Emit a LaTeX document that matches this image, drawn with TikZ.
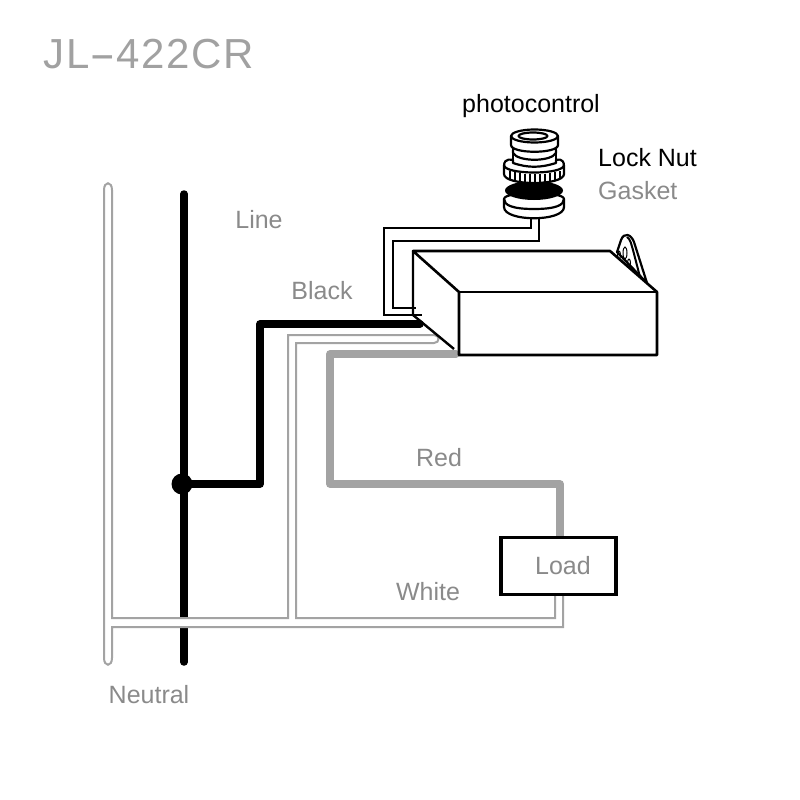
\documentclass[tikz,border=0pt]{standalone}
\usepackage{fontspec}
\setmainfont{Liberation Sans}
\newfontfamily\titlefont[LetterSpace=4.5]{Liberation Sans}
\definecolor{wiregray}{HTML}{A3A3A3}
\definecolor{labelgray}{HTML}{8A8A8A}
\tikzset{
  lab/.style={text=labelgray,font=\fontsize{25}{28}\selectfont,inner sep=0pt},
  blk/.style={text=black,font=\fontsize{25}{28}\selectfont,inner sep=0pt},
  thickwire/.style={line width=7.5pt,line join=round},
  hotwire/.style={thickwire,black},
  redwire/.style={thickwire,wiregray},
  whitewire/.style={draw=wiregray,fill=white,line width=2pt,line join=miter},
  leadwire/.style={draw=black,line width=2pt},
  boxline/.style={draw=black,line width=2.6pt,line join=round,fill=white},
  pc/.style={draw=black,line width=2.2pt,fill=white,line join=round},
}
\begin{document}
\begin{tikzpicture}[x=1pt,y=-1pt]
\useasboundingbox (0,0) rectangle (800,800);
% named points
\coordinate (lineTop) at (184,194);
\coordinate (lineBot) at (184,662);
\coordinate (tapA) at (260,484);
\coordinate (tapB) at (260,324);
\coordinate (tapC) at (420,324);
\coordinate (redA) at (456,354);
\coordinate (redB) at (330,354);
\coordinate (redC) at (330,484);
\coordinate (redD) at (560,484);
% title
\node[anchor=west,inner sep=0pt,text=labelgray!80!white] (title) at (43,54)
  {\titlefont\fontsize{42}{45}\selectfont JL\scalebox{1.9}[1]{-}422CR};
% black line
\draw[hotwire,line cap=round] (lineTop) -- (lineBot);
\node[circle,fill=black,minimum size=21pt,inner sep=0pt] (tap) at (182,484) {};
\draw[hotwire,line cap=round] (tap.center) -- (tapA) -- (tapB) -- (tapC);
% neutral / white wire outline
\coordinate (nA) at (104,190);
\draw[whitewire] (nA) .. controls (104,181) and (112,181) .. (112,190)
  -- (112,618) -- (288,618) -- (288,335) -- (434,335)
  .. controls (440,335) and (440,343) .. (434,343)
  -- (296,343) -- (296,618) -- (555,618) -- (555,580) -- (563,580) -- (563,627)
  -- (112,627) -- (112,658) .. controls (112,667) and (104,667) .. (104,658) -- cycle;
% red wire
\draw[redwire,line cap=round] (redA) -- (redB) -- (redC) -- (redD) -- (560,540);
% load
\node[draw=black,line width=3.5pt,fill=white,minimum width=115pt,minimum height=57pt,inner sep=0pt,
  text=labelgray,font=\fontsize{25}{28}\selectfont] (load) at (558.5,566) {\hspace*{9pt}Load};
% tab behind the box
\coordinate (tabA) at (617,252);
\coordinate (tabB) at (647,283);
\draw[pc] (tabA) -- (621,240) .. controls (624,232) and (631,234) .. (634,242) -- (tabB) -- cycle;
\draw[draw=black,line width=2pt] (627,237) .. controls (631,240) and (631,244) .. (633,250) -- (640,277);
\draw[black,line width=1pt] (625,253) ellipse[x radius=2pt,y radius=6pt];
\draw[black,line width=1pt] (619,255) ellipse[x radius=1.5pt,y radius=4pt];
\draw[black,line width=1pt] (629,263) ellipse[x radius=1.5pt,y radius=4pt];
% box
\coordinate (bBL) at (413,251);
\coordinate (bBR) at (610,251);
\coordinate (bFL) at (459,292);
\coordinate (bFR) at (657,292);
\coordinate (bFB) at (459,355);
\coordinate (bRB) at (657,355);
\coordinate (bLow) at (413,315);
\coordinate (bDiag) at (454,349);
\draw[boxline] (bBL) -- (bBR) -- (bFR) -- (bRB) -- (bFB) -- (bFL) -- cycle;
\draw[boxline] (bFL) -- (bFR);
\draw[draw=black,line width=2.4pt] (bBL) -- (bLow) -- (bDiag);
% leads
\coordinate (pcL) at (531,214);
\coordinate (pcR) at (539,214);
\draw[leadwire] (pcL) -- (531,228) -- (384,228) -- (384,315) -- (422,315);
\draw[leadwire] (pcR) -- (539,241) -- (393,241) -- (393,308) -- (416,308);
% photocontrol: washer
\draw[pc] (504,199) -- (504,207) .. controls (504,222) and (564,222) .. (564,207) -- (564,199)
  .. controls (564,191) and (504,191) .. cycle;
\draw[pc,fill=none] (504,199) .. controls (504,205) and (512,209) .. (534,209) .. controls (556,209) and (564,205) .. (564,199);
% gasket
\fill[black] (534,190.5) ellipse[x radius=29pt,y radius=9.5pt];
% neck
\draw[pc] (513,145) rectangle (556,175);
% nut
\draw[pc] (504,166) -- (504,174) .. controls (504,186) and (564,186) .. (564,174) -- (564,166)
  .. controls (564,157) and (556,160) .. (556,160) -- (556,163) .. controls (540,168) and (528,168) .. (513,163) -- (513,160)
  .. controls (513,160) and (504,157) .. cycle;
\draw[pc,fill=none] (504,165) .. controls (504,175) and (564,175) .. (564,165);
\foreach \kx/\ky in {510/171,515/172,520/173,525/173.5,530/174,535/174,540/174,545/173.5,550/173,555/172,560/171}
  \draw[black,line width=1.7pt] (\kx,\ky) -- (\kx,\ky+8);
% cap
\draw[pc] (511,136) -- (511,145) .. controls (511,154) and (558,154) .. (558,145) -- (558,136) -- cycle;
\draw[pc,fill=none] (513,150) -- (513,153) .. controls (518,162) and (551,162) .. (556,153) -- (556,150);
\draw[pc] (534.5,136) ellipse[x radius=23.5pt,y radius=6.5pt];
\draw[pc] (533,136) ellipse[x radius=14.5pt,y radius=3.5pt];
% labels
\node[blk] (pclabel) at (531,106) {photocontrol};
\node[blk,anchor=west] (locknut) at (598,158) {Lock Nut};
\node[lab,anchor=west] (gasket) at (598,191) {Gasket};
\node[lab] (linelab) at (259,220) {Line};
\node[lab] (blacklab) at (322,291) {Black};
\node[lab] (redlab) at (439,458) {Red};
\node[lab] (whitelab) at (428,592) {White};
\node[lab] (neutrallab) at (149,695) {Neutral};
\end{tikzpicture}
\end{document}
